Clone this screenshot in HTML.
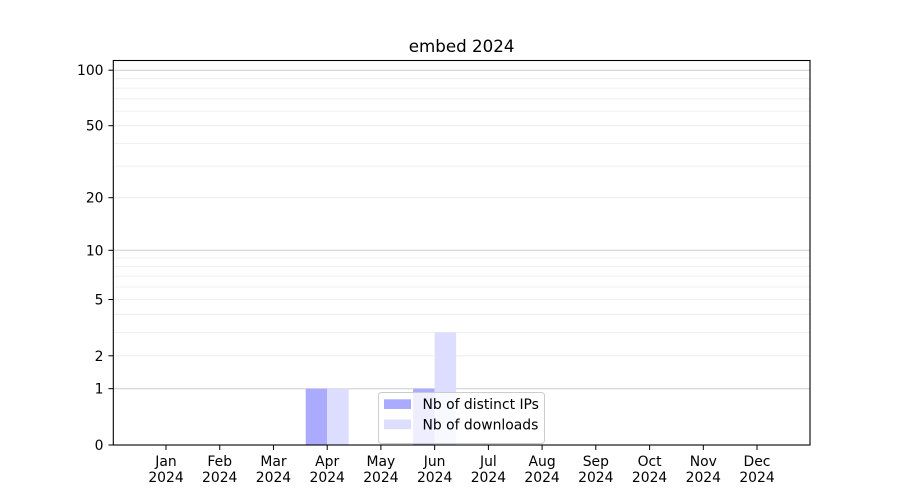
<!DOCTYPE html>
<html><head><meta charset="utf-8"><style>
html,body{margin:0;padding:0;background:#fff;}
svg{display:block;}
text{font-family:"DejaVu Sans","Liberation Sans",sans-serif;fill:#000;}
</style></head><body>
<svg width="900" height="500" viewBox="0 0 900 500" xmlns="http://www.w3.org/2000/svg">
<rect width="900" height="500" fill="#fff"/>
<!-- minor grid -->
<g stroke="#ebebeb" stroke-width="0.8">
<line x1="113.3" x2="810" y1="355.8" y2="355.8"/>
<line x1="113.3" x2="810" y1="332.4" y2="332.4"/>
<line x1="113.3" x2="810" y1="314.3" y2="314.3"/>
<line x1="113.3" x2="810" y1="299.5" y2="299.5"/>
<line x1="113.3" x2="810" y1="287.0" y2="287.0"/>
<line x1="113.3" x2="810" y1="276.1" y2="276.1"/>
<line x1="113.3" x2="810" y1="266.6" y2="266.6"/>
<line x1="113.3" x2="810" y1="258.0" y2="258.0"/>
<line x1="113.3" x2="810" y1="197.7" y2="197.7"/>
<line x1="113.3" x2="810" y1="166.1" y2="166.1"/>
<line x1="113.3" x2="810" y1="143.4" y2="143.4"/>
<line x1="113.3" x2="810" y1="125.7" y2="125.7"/>
<line x1="113.3" x2="810" y1="111.1" y2="111.1"/>
<line x1="113.3" x2="810" y1="98.8" y2="98.8"/>
<line x1="113.3" x2="810" y1="88.1" y2="88.1"/>
<line x1="113.3" x2="810" y1="78.7" y2="78.7"/>
</g>
<!-- major grid -->
<g stroke="#cdcdcd" stroke-width="1">
<line x1="113.3" x2="810" y1="388.7" y2="388.7"/>
<line x1="113.3" x2="810" y1="250.3" y2="250.3"/>
<line x1="113.3" x2="810" y1="70.2" y2="70.2"/>
</g>
<!-- bars -->
<rect x="305.7" y="388.7" width="21.5" height="56.3" fill="#aaaaff"/>
<rect x="327.2" y="388.7" width="21.5" height="56.3" fill="#ddddff"/>
<rect x="413.15" y="388.7" width="21.5" height="56.3" fill="#aaaaff"/>
<rect x="434.65" y="332.4" width="21.5" height="112.6" fill="#ddddff"/>
<!-- axes frame -->
<rect x="113.3" y="60.5" width="696.7" height="384.5" fill="none" stroke="#000" stroke-width="1.1"/>
<!-- y ticks -->
<g stroke="#000" stroke-width="1">
<line x1="108.4" x2="113.3" y1="445" y2="445"/>
<line x1="108.4" x2="113.3" y1="388.7" y2="388.7"/>
<line x1="108.4" x2="113.3" y1="355.8" y2="355.8"/>
<line x1="108.4" x2="113.3" y1="299.5" y2="299.5"/>
<line x1="108.4" x2="113.3" y1="250.3" y2="250.3"/>
<line x1="108.4" x2="113.3" y1="197.7" y2="197.7"/>
<line x1="108.4" x2="113.3" y1="125.7" y2="125.7"/>
<line x1="108.4" x2="113.3" y1="70.2" y2="70.2"/>
</g>
<g font-size="13.9" text-anchor="end">
<text x="103.5" y="450">0</text>
<text x="103.5" y="393.7">1</text>
<text x="103.5" y="360.8">2</text>
<text x="103.5" y="304.5">5</text>
<text x="103.5" y="255.3">10</text>
<text x="103.5" y="202.7">20</text>
<text x="103.5" y="130.7">50</text>
<text x="103.5" y="75.2">100</text>
</g>
<!-- x ticks -->
<g stroke="#000" stroke-width="1">
<line x1="166" x2="166" y1="445" y2="450"/>
<line x1="219.73" x2="219.73" y1="445" y2="450"/>
<line x1="273.46" x2="273.46" y1="445" y2="450"/>
<line x1="327.2" x2="327.2" y1="445" y2="450"/>
<line x1="380.9" x2="380.9" y1="445" y2="450"/>
<line x1="434.65" x2="434.65" y1="445" y2="450"/>
<line x1="488.4" x2="488.4" y1="445" y2="450"/>
<line x1="542.1" x2="542.1" y1="445" y2="450"/>
<line x1="595.8" x2="595.8" y1="445" y2="450"/>
<line x1="649.6" x2="649.6" y1="445" y2="450"/>
<line x1="703.3" x2="703.3" y1="445" y2="450"/>
<line x1="757" x2="757" y1="445" y2="450"/>
</g>
<g font-size="13.9" text-anchor="middle">
<text x="166" y="466">Jan</text><text x="166" y="482">2024</text>
<text x="219.73" y="466">Feb</text><text x="219.73" y="482">2024</text>
<text x="273.46" y="466">Mar</text><text x="273.46" y="482">2024</text>
<text x="327.2" y="466">Apr</text><text x="327.2" y="482">2024</text>
<text x="380.9" y="466">May</text><text x="380.9" y="482">2024</text>
<text x="434.65" y="466">Jun</text><text x="434.65" y="482">2024</text>
<text x="488.4" y="466">Jul</text><text x="488.4" y="482">2024</text>
<text x="542.1" y="466">Aug</text><text x="542.1" y="482">2024</text>
<text x="595.8" y="466">Sep</text><text x="595.8" y="482">2024</text>
<text x="649.6" y="466">Oct</text><text x="649.6" y="482">2024</text>
<text x="703.3" y="466">Nov</text><text x="703.3" y="482">2024</text>
<text x="757" y="466">Dec</text><text x="757" y="482">2024</text>
</g>
<!-- title -->
<text x="461.6" y="52" font-size="16.7" text-anchor="middle">embed 2024</text>
<!-- legend -->
<rect x="378.5" y="392.5" width="166" height="51" rx="3" ry="3" fill="#fff" fill-opacity="0.8" stroke="#cccccc" stroke-width="1"/>
<rect x="384" y="399.3" width="27" height="9.7" fill="#aaaaff"/>
<rect x="384" y="419.5" width="27" height="9.7" fill="#ddddff"/>
<g font-size="13.9">
<text x="422.5" y="409">Nb of distinct IPs</text>
<text x="422.5" y="429.5">Nb of downloads</text>
</g>
</svg>
</body></html>
